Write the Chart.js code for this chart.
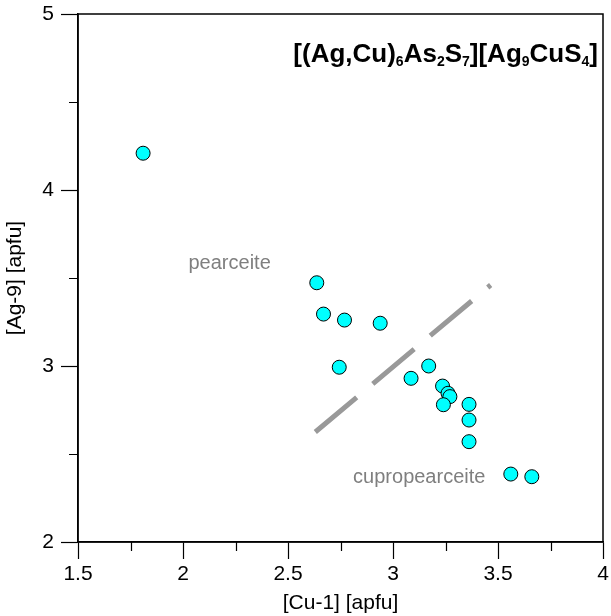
<!DOCTYPE html>
<html>
<head>
<meta charset="utf-8">
<script src="https://cdn.jsdelivr.net/npm/chart.js@4.4.1/dist/chart.umd.min.js"></script>
<style>
  html, body { margin: 0; padding: 0; background: #fff; }
  #wrap { width: 611px; height: 616px; }
</style>
</head>
<body>
<div id="wrap"><canvas id="chart" width="611" height="616"></canvas></div>
<script>
// Composition data: Cu-1 vs Ag-9 (apfu)
const cuValues = [1.81, 2.637, 2.669, 2.769, 2.939, 2.744, 3.170, 3.086, 3.236, 3.262, 3.271, 3.240, 3.362, 3.362, 3.362, 3.561, 3.661];
const agValues = [4.209, 3.473, 3.295, 3.261, 3.243, 2.993, 3.000, 2.930, 2.886, 2.845, 2.826, 2.780, 2.782, 2.693, 2.570, 2.386, 2.371];

// 1:1 boundary between the two species
const boundaryX = [2.63, 3.465];
const boundaryY = [2.625, 3.46];

const xMinorTicks = [1.75, 2.25, 2.75, 3.25, 3.75];
const yMinorTicks = [2.5, 3.5, 4.5];

const FONT = '"Liberation Sans", Arial, Helvetica, sans-serif';

// Species labels placed in data space
const speciesLabels = [
    { text: 'pearceite', x: 2.222, y: 3.585 },
    { text: 'cupropearceite', x: 3.125, y: 2.369 }
];

// Formula pieces: [text, isSubscript]
const formulaParts = [
    ['[(Ag,Cu)', false], ['6', true], ['As', false], ['2', true], ['S', false], ['7', true],
    ['][Ag', false], ['9', true], ['CuS', false], ['4', true], [']', false]
];

const points = cuValues.map((x, i) => ({ x: x, y: agValues[i] }));
const boundary = boundaryX.map((x, i) => ({ x: x, y: boundaryY[i] }));

// plain numbers on the axes: 2, 2.5, 3 ...
const plainTick = (value) => String(+value.toFixed(2));

// no extra room for half tick labels, the frame is placed by layout padding
function fitNoPad(size) {
    return (s) => {
        if (s.isHorizontal()) s.height = size; else s.width = size;
        s.paddingTop = 0; s.paddingBottom = 0; s.paddingLeft = 0; s.paddingRight = 0;
    };
}

// Box frame, minor ticks, annotations and the formula title
const decorations = {
    id: 'decorations',
    afterDraw(chart) {
        const ctx = chart.ctx;
        const area = chart.chartArea;
        const xs = chart.scales.x, ys = chart.scales.y;
        ctx.save();
        ctx.strokeStyle = '#000';
        ctx.lineWidth = 1.5;
        ctx.strokeRect(area.left, area.top, area.right - area.left, area.bottom - area.top);

        ctx.lineWidth = 1.2;
        ctx.beginPath();
        xMinorTicks.forEach(v => {
            const px = Math.round(xs.getPixelForValue(v)) + 0.5;
            ctx.moveTo(px, area.bottom);
            ctx.lineTo(px, area.bottom + 9);
        });
        yMinorTicks.forEach(v => {
            const py = Math.round(ys.getPixelForValue(v)) + 0.5;
            ctx.moveTo(area.left, py);
            ctx.lineTo(area.left - 9, py);
        });
        ctx.stroke();

        ctx.fillStyle = '#7f7f7f';
        ctx.font = '20px ' + FONT;
        ctx.textAlign = 'center';
        ctx.textBaseline = 'middle';
        speciesLabels.forEach(l => {
            ctx.fillText(l.text, xs.getPixelForValue(l.x), ys.getPixelForValue(l.y));
        });

        // formula, right aligned inside the frame
        const mainFont = 'bold 26px ' + FONT;
        const subFont = 'bold 14px ' + FONT;
        let total = 0;
        formulaParts.forEach(p => {
            ctx.font = p[1] ? subFont : mainFont;
            total += ctx.measureText(p[0]).width;
        });
        let x = area.right - 5 - total;
        const baseline = 62;
        ctx.fillStyle = '#000';
        ctx.textAlign = 'left';
        ctx.textBaseline = 'alphabetic';
        formulaParts.forEach(p => {
            ctx.font = p[1] ? subFont : mainFont;
            ctx.fillText(p[0], x, p[1] ? baseline + 4 : baseline);
            x += ctx.measureText(p[0]).width;
        });
        ctx.restore();
    }
};

new Chart(document.getElementById('chart'), {
    type: 'scatter',
    data: {
        datasets: [
            {
                data: points,
                backgroundColor: '#00ffff',
                borderColor: '#000',
                borderWidth: 1,
                pointRadius: 7,
                order: 1
            },
            {
                type: 'line',
                data: boundary,
                borderColor: '#999999',
                borderWidth: 5,
                borderDash: [54, 21],
                borderCapStyle: 'butt',
                pointRadius: 0,
                fill: false,
                order: 2
            }
        ]
    },
    options: {
        responsive: false,
        animation: false,
        layout: { padding: { top: 14, right: 7, left: 0, bottom: 0 } },
        plugins: { legend: { display: false }, tooltip: { enabled: false } },
        scales: {
            x: {
                type: 'linear',
                min: 1.5, max: 4,
                afterFit: fitNoPad(74),
                ticks: { stepSize: 0.5, color: '#000', font: { family: FONT, size: 21 }, padding: 3, maxRotation: 0, callback: plainTick },
                grid: { drawOnChartArea: false, tickLength: 17, color: '#000', tickWidth: 1.2 },
                border: { color: '#000', width: 1.5 },
                title: { display: true, text: '[Cu-1] [apfu]', color: '#000', font: { family: FONT, size: 21 }, padding: { top: 0, bottom: 0 } }
            },
            y: {
                type: 'linear',
                min: 2, max: 5,
                afterFit: fitNoPad(78),
                ticks: { stepSize: 1, color: '#000', font: { family: FONT, size: 21 }, padding: 7, callback: plainTick },
                grid: { drawOnChartArea: false, tickLength: 17, color: '#000', tickWidth: 1.2 },
                border: { color: '#000', width: 1.5 },
                title: { display: true, text: '[Ag-9] [apfu]', color: '#000', font: { family: FONT, size: 21 }, padding: { top: 3, bottom: 0 } }
            }
        }
    },
    plugins: [decorations]
});
</script>
</body>
</html>
